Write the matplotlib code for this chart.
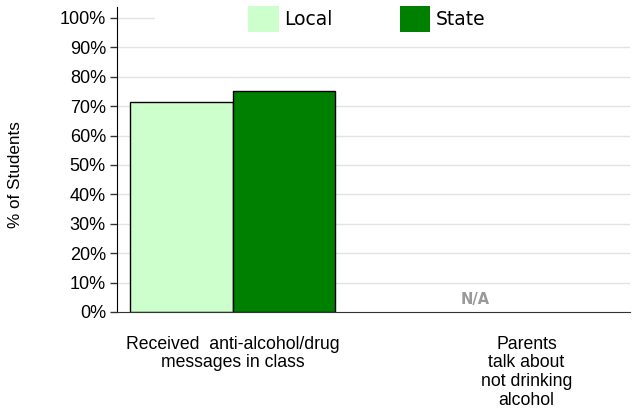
import matplotlib.pyplot as plt
from matplotlib.patches import Rectangle

categories = ["Received  anti-alcohol/drug\nmessages in class",
              "Parents\ntalk about\nnot drinking\nalcohol"]
local_values = [71.5, None]
state_values = [75.2, None]
series_names = ["Local", "State"]
y_ticks = [0, 10, 20, 30, 40, 50, 60, 70, 80, 90, 100]

LOCAL = "#ccffcc"
STATE = "#008000"
ARIAL = ["Liberation Sans", "DejaVu Sans"]


def main() -> None:
    fig = plt.figure(figsize=(6.36, 4.13), dpi=100, facecolor="white")
    ax = fig.add_axes([117 / 636, 1 - 312 / 413, 513 / 636, 305 / 413])

    width = 0.349
    xs = list(range(len(categories)))
    for i, x in enumerate(xs):
        if local_values[i] is None:
            ax.text(x - width / 2, 2.7, "N/A", ha="center", va="baseline",
                    fontsize=10.5, fontweight="bold", color="#999999",
                    family="DejaVu Sans")
            continue
        ax.bar(x - width / 2, local_values[i], width, color=LOCAL,
               edgecolor="black", linewidth=1, zorder=3,
               label=series_names[0])
        ax.bar(x + width / 2, state_values[i], width, color=STATE,
               edgecolor="black", linewidth=1, zorder=3,
               label=series_names[1])

    ax.set_xlim(-0.393, 1.352)
    ax.set_ylim(0, 103.7)

    # light grid lines
    for t in y_ticks[1:]:
        ax.axhline(t, color="#e3e3e3", linewidth=1, zorder=1)
    # white box behind the legend hides most of the 100% line
    ax.add_patch(Rectangle((0.074, 0.93), 0.926, 0.07, transform=ax.transAxes,
                           facecolor="white", edgecolor="none", zorder=2,
                           clip_on=False))

    ax.set_yticks(y_ticks)
    ax.set_yticklabels([f"{t}%" for t in y_ticks], family=ARIAL, fontsize=13)
    ax.tick_params(axis="y", length=5, width=1, color="#333333", pad=3)
    ax.set_xticks(xs)
    ax.set_xticklabels(categories, family=ARIAL, fontsize=12.7,
                       linespacing=1.13, va="top")
    ax.tick_params(axis="x", length=0, pad=17)

    for side in ("top", "right"):
        ax.spines[side].set_visible(False)
    ax.spines["left"].set_color("black")
    ax.spines["bottom"].set_color("#333333")
    ax.spines["left"].set_zorder(4)
    ax.spines["bottom"].set_zorder(4)

    fig.text(15 / 636, 1 - 175 / 413, "% of Students", rotation=90,
             ha="center", va="center", family=ARIAL, fontsize=12.3)

    leg = ax.legend(loc="center left", bbox_to_anchor=(248 / 636, 1 - 19 / 413),
                    bbox_transform=fig.transFigure, ncol=2, frameon=False,
                    handlelength=1.65, handleheight=1.76, handletextpad=0.3,
                    columnspacing=3.55, borderpad=0, borderaxespad=0,
                    prop={"family": "DejaVu Sans", "size": 13.5})
    for h in leg.legend_handles:
        h.set_edgecolor("none")

    fig.savefig("out.png", dpi=100, facecolor="white")
    plt.close(fig)


if __name__ == "__main__":
    main()
